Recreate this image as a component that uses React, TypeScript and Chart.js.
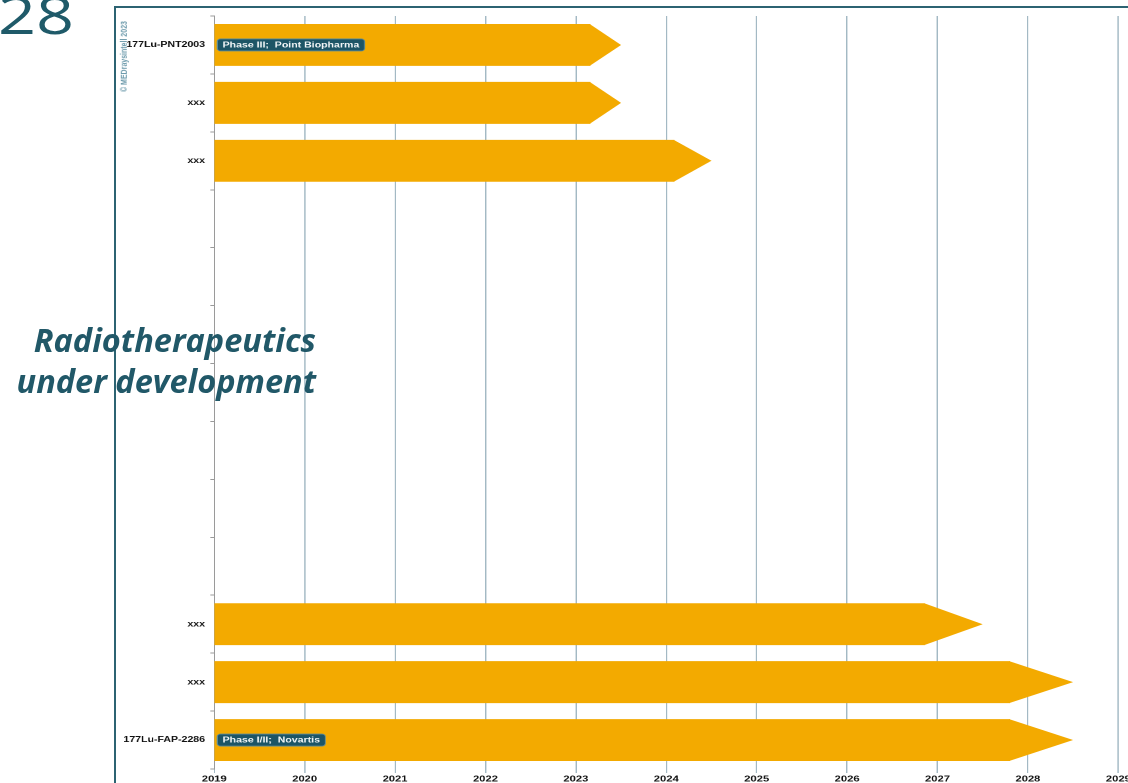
import React, { useEffect, useRef } from "react";
import { Chart, registerables } from "chart.js";

Chart.register(...registerables);

// ---- data ----
const categories = [
  "177Lu-PNT2003",
  "xxx",
  "xxx",
  "",
  "",
  "",
  "",
  "",
  "",
  "",
  "xxx",
  "xxx",
  "177Lu-FAP-2286",
];
const startYears: (number | null)[] = [2019, 2019, 2019, null, null, null, null, null, null, null, 2019, 2019, 2019];
const bodyEnds: (number | null)[] = [2023.16, 2023.16, 2024.09, null, null, null, null, null, null, null, 2026.86, 2027.8, 2027.8];
const tipEnds: (number | null)[] = [2023.5, 2023.5, 2024.5, null, null, null, null, null, null, null, 2027.5, 2028.5, 2028.5];
const phaseNotes = [
  "Phase III;  Point Biopharma",
  "",
  "",
  "",
  "",
  "",
  "",
  "",
  "",
  "",
  "",
  "",
  "Phase I/II;  Novartis",
];
const yearMin = 2019;
const yearMax = 2029;

// ---- styling ----
const STRETCH = 1.32;
const BAR_COLOR = "#F3AA00";
const TEAL = "#215868";
const FONT = "'Liberation Sans', Arial, sans-serif";

const arrowPlugin = {
  id: "arrowHeadsAndNotes",
  afterDatasetsDraw(chart: any) {
    const ctx = chart.ctx as CanvasRenderingContext2D;
    const xs = chart.scales.x;
    const meta = chart.getDatasetMeta(0);
    meta.data.forEach((el: any, i: number) => {
      const tip = tipEnds[i];
      if (tip == null || bodyEnds[i] == null) return;
      const { x, y, height, base } = el.getProps(["x", "y", "height", "base"], true);
      const tipX = xs.getPixelForValue(tip);
      ctx.save();
      ctx.fillStyle = BAR_COLOR;
      ctx.beginPath();
      ctx.moveTo(x - 0.5, y - height / 2);
      ctx.lineTo(tipX, y);
      ctx.lineTo(x - 0.5, y + height / 2);
      ctx.closePath();
      ctx.fill();

      const note = phaseNotes[i];
      if (note) {
        ctx.font = `bold 8px ${FONT}`;
        const tw = ctx.measureText(note).width;
        const bx = Math.min(base, x) + 2.3;
        const bh = 12;
        const bw = tw + 8;
        ctx.beginPath();
        (ctx as any).roundRect(bx, y - bh / 2, bw, bh, 2.5);
        ctx.fillStyle = "#1d5566";
        ctx.fill();
        ctx.lineWidth = 0.8;
        ctx.strokeStyle = "#5a8a98";
        ctx.stroke();
        ctx.fillStyle = "#f4f8f9";
        ctx.textBaseline = "middle";
        ctx.textAlign = "left";
        ctx.fillText(note, bx + 4, y + 0.5);
      }
      ctx.restore();
    });
  },
};

function GanttChart() {
  const canvasRef = useRef<HTMLCanvasElement | null>(null);

  useEffect(() => {
    if (!canvasRef.current) return;
    const chart = new Chart(canvasRef.current, {
      type: "bar",
      data: {
        labels: categories,
        datasets: [
          {
            data: startYears.map((s, i) => (s == null || bodyEnds[i] == null ? null : [s, bodyEnds[i] as number])) as any,
            backgroundColor: BAR_COLOR,
            borderWidth: 0,
            barPercentage: 0.724,
            categoryPercentage: 1,
          },
        ],
      },
      options: {
        indexAxis: "y",
        animation: false,
        responsive: true,
        maintainAspectRatio: false,
        devicePixelRatio: 2,
        layout: { padding: { left: 0, right: 32.8, top: 16, bottom: 11 } },
        plugins: { legend: { display: false }, tooltip: { enabled: false } },
        scales: {
          x: {
            type: "linear",
            min: yearMin,
            max: yearMax,
            afterFit: (s: any) => {
              s.height = 20;
            },
            grid: { color: "#a3b9c4", lineWidth: 1, tickLength: 4, drawTicks: true },
            border: { display: false },
            ticks: {
              stepSize: 1,
              autoSkip: false,
              maxRotation: 0,
              padding: 1,
              color: "#111",
              font: { family: FONT, size: 8.5, weight: "bold" },
              callback: (v: any) => String(v),
            },
          },
          y: {
            type: "category",
            offset: true,
            afterFit: (s: any) => {
              s.width = 162.3;
            },
            grid: { offset: true, drawOnChartArea: false, tickLength: 3, color: "#9a9a9a" },
            border: { display: true, color: "#9a9a9a", width: 1 },
            ticks: {
              autoSkip: false,
              padding: 4,
              color: "#111",
              font: { family: FONT, size: 8, weight: "bold" },
            },
          },
        },
      },
      plugins: [arrowPlugin],
    });
    return () => chart.destroy();
  }, []);

  return <canvas ref={canvasRef} style={{ display: "block" }} />;
}

export default function App() {
  return (
    <div
      style={{
        position: "fixed",
        left: 0,
        top: 0,
        width: 1128,
        height: 783,
        overflow: "hidden",
        background: "#ffffff",
      }}
    >
      <div
        style={{
          position: "absolute",
          left: -2,
          top: -12.2,
          fontFamily: "'Open Sans', sans-serif",
          fontSize: 52,
          lineHeight: "52px",
          color: "#1f5a69",
          fontWeight: 400,
          transform: "scaleX(1.28)",
          transformOrigin: "0 0",
        }}
      >
        28
      </div>
      <div
        style={{
          position: "absolute",
          left: 114,
          top: 6,
          width: 1100,
          height: 900,
          borderTop: "2px solid #2c6372",
          borderLeft: "2px solid #2c6372",
        }}
      />
      <div
        style={{
          position: "absolute",
          left: 0,
          top: 0,
          width: 880,
          height: 800,
          transform: `scaleX(${STRETCH})`,
          transformOrigin: "0 0",
        }}
      >
        <GanttChart />
        <div
          style={{
            position: "absolute",
            left: 90,
            top: 92,
            transformOrigin: "0 0",
            transform: "rotate(-90deg)",
            fontFamily: FONT,
            fontWeight: "bold",
            fontSize: 7,
            lineHeight: "7px",
            whiteSpace: "nowrap",
            color: "#6c9aab",
          }}
        >
          © MEDraysintell 2023
        </div>
      </div>
      <div
        style={{
          position: "absolute",
          left: 0,
          top: 318.6,
          width: 316,
          textAlign: "right",
          fontFamily: "'Open Sans', sans-serif",
          fontWeight: 700,
          fontStyle: "italic",
          fontSize: 32.5,
          lineHeight: "41px",
          color: TEAL,
          whiteSpace: "nowrap",
        }}
      >
        Radiotherapeutics
        <br />
        under development
      </div>
    </div>
  );
}
